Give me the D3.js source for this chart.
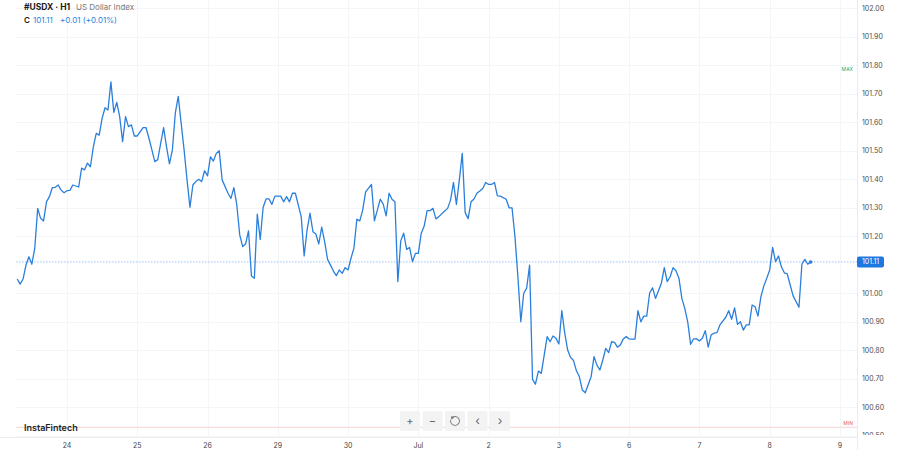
<!DOCTYPE html>
<html><head><meta charset="utf-8">
<script src="https://cdn.jsdelivr.net/npm/d3@7"></script>
<style>html,body{margin:0;padding:0;background:#fff;}svg{display:block;}</style>
</head><body>
<svg id="chart" width="900" height="450"></svg>
<script>
// Hour offsets (H1 bars) and close values
const hours = [
  0,1,2,3,4,5,6,7,8,9,
  10,11,12,13,14,15,16,17,18,19,
  21,22,23,24,25,26,27,28,29,30,
  31,32,33,34,35,36,37,38,39,40,
  41,43,44,45,46,47,48,49,50,51,
  52,53,54,55,56,57,58,59,60,61,
  62,63,64,65,66,67,68,69,70,72,
  73,74,75,76,77,78,79,80,81,82,
  83,84,85,86,87,88,89,90,91,92,
  93,94,95,97,98,99,100,101,102,103,
  104,105,106,107,108,109,110,111,112,113,
  114,115,116,117,118,119,121,122,123,124,
  125,126,127,128,129,130,131,132,133,134,
  135,136,137,138,139,140,141,142,143,144,
  146,147,148,149,150,151,152,153,154,155,
  156,157,158,159,160,161,162,163,164,165,
  167,168,169,170,171,172,173,174,175,176,
  177,178,179,180,181,182,183,184,185,186,
  187,188,189,190,191,192,193,194,196,197,
  198,199,200,201,202,203,204,205,206,207,
  208,209,210,211,212,213,214,215,216,217,
  218,220,221,222,223,224,225,226,227,228,
  229,230,231,232,233,234,235,236,237,238,
  239,240,242,243,244,245,246,247,248,249,
  250,251,252,253,254,255,256,257,258,259,
  260,261,262,263,264,265,267,268,269,270,
  271
];
const closes = [
  101.050,101.032,101.050,101.099,101.128,101.102,101.158,101.298,101.263,101.254,
  101.321,101.339,101.371,101.372,101.380,101.362,101.353,101.360,101.361,101.380,
  101.373,101.439,101.433,101.457,101.444,101.514,101.561,101.555,101.614,101.651,
  101.643,101.742,101.635,101.670,101.620,101.532,101.620,101.585,101.591,101.552,
  101.552,101.581,101.581,101.544,101.503,101.462,101.469,101.526,101.581,101.514,
  101.454,101.503,101.632,101.691,101.596,101.503,101.398,101.302,101.380,101.392,
  101.400,101.392,101.430,101.412,101.479,101.464,101.491,101.500,101.398,101.351,
  101.333,101.371,101.310,101.205,101.164,101.173,101.219,101.061,101.053,101.278,
  101.189,101.302,101.331,101.331,101.312,101.341,101.341,101.341,101.321,101.339,
  101.321,101.351,101.351,101.269,101.131,101.222,101.281,101.216,101.208,101.173,
  101.232,101.181,101.119,101.099,101.078,101.062,101.082,101.070,101.090,101.082,
  101.123,101.158,101.260,101.254,101.292,101.356,101.382,101.254,101.292,101.330,
  101.313,101.272,101.351,101.330,101.321,101.041,101.184,101.211,101.154,101.161,
  101.111,101.140,101.140,101.211,101.236,101.290,101.290,101.298,101.261,101.269,
  101.289,101.298,101.327,101.389,101.312,101.398,101.491,101.283,101.262,101.321,
  101.331,101.351,101.359,101.368,101.389,101.382,101.382,101.389,101.342,101.341,
  101.330,101.300,101.300,101.199,101.058,100.900,101.000,101.018,101.099,100.698,
  100.681,100.727,100.719,100.784,100.848,100.830,100.850,100.842,100.822,100.939,
  100.860,100.801,100.775,100.764,100.728,100.707,100.661,100.651,100.707,100.778,
  100.748,100.731,100.766,100.807,100.792,100.830,100.828,100.811,100.819,100.840,
  100.848,100.840,100.839,100.839,100.939,100.900,100.920,100.920,101.001,101.019,
  100.982,101.035,101.090,101.041,101.058,101.090,101.079,101.053,100.982,100.947,
  100.900,100.821,100.840,100.840,100.833,100.842,100.869,100.811,100.854,100.860,
  100.862,100.889,100.916,100.939,100.909,100.949,100.891,100.900,100.871,100.889,
  100.889,100.959,100.953,100.920,100.988,101.026,101.053,101.082,101.161,101.111,
  101.131,101.093,101.072,101.068,101.029,100.991,100.951,101.102,101.119,101.102,
  101.110
];
// Date tick labels (placed every 24 bars) and their bar offsets
const dayLabels = ['24','25','26','29','30','Jul','2','3','6','7','8','9'];
const dayHours = [17,41,65,89,113,137,161,185,209,233,257,281];
// Price axis ticks
const priceTicks = [102.0,101.9,101.8,101.7,101.6,101.5,101.4,101.3,101.2,101.0,100.9,100.8,100.7,100.6,100.5];
const lastPrice = 101.11;
const maxLevel = 101.785;
const minLevel = 100.53;

const FONT = "Inter, 'Open Sans', 'Noto Sans', sans-serif";
const svg = d3.select('#chart').style('font-family', FONT);

const x = d3.scaleLinear().domain([0, 281]).range([17.2, 17.2 + 2.928 * 281]);
const y = d3.scaleLinear().domain([100.5, 102.0]).range([435.8, 8.3]);
const plotLeft = 16, plotRight = 857, plotBottom = 437;

// grid
const grid = svg.append('g');
grid.selectAll('line.h').data(priceTicks).enter().append('line')
  .attr('x1', plotLeft).attr('x2', plotRight)
  .attr('y1', d => Math.round(y(d)) + 0.5).attr('y2', d => Math.round(y(d)) + 0.5)
  .attr('stroke', '#f3f5f9').attr('stroke-width', 1);
grid.selectAll('line.v').data(dayHours).enter().append('line')
  .attr('x1', d => Math.round(x(d)) + 0.5).attr('x2', d => Math.round(x(d)) + 0.5)
  .attr('y1', 0).attr('y2', plotBottom)
  .attr('stroke', '#f3f5f9').attr('stroke-width', 1);

// borders
svg.append('line').attr('x1', plotRight + 0.5).attr('x2', plotRight + 0.5).attr('y1', 0).attr('y2', 450)
  .attr('stroke', '#ececec');
svg.append('line').attr('x1', 0).attr('x2', plotRight).attr('y1', plotBottom + 0.5).attr('y2', plotBottom + 0.5)
  .attr('stroke', '#ededed');

// min level line
svg.append('line').attr('x1', plotLeft).attr('x2', plotRight)
  .attr('y1', y(minLevel)).attr('y2', y(minLevel))
  .attr('stroke', '#f6d3d3').attr('stroke-width', 1);
svg.append('text').attr('x', 853).attr('y', y(minLevel) - 2).attr('text-anchor', 'end')
  .attr('font-size', 5).attr('fill', '#ef5350').text('MIN');
svg.append('text').attr('x', 853).attr('y', y(maxLevel) + 1.5).attr('text-anchor', 'end')
  .attr('font-size', 5).attr('fill', '#26a65b').text('MAX');

// current price dotted line
svg.append('line').attr('x1', plotLeft).attr('x2', plotRight)
  .attr('y1', y(lastPrice)).attr('y2', y(lastPrice))
  .attr('stroke', '#9cc3f2').attr('stroke-width', 1).attr('stroke-dasharray', '1.5,1.5');

// price line
const pts = hours.map((h, i) => [h, closes[i]]);
const line = d3.line().x(d => x(d[0])).y(d => y(d[1]));
svg.append('path').datum(pts).attr('d', line)
  .attr('fill', 'none').attr('stroke', '#2b7fdc').attr('stroke-width', 1.3)
  .attr('stroke-linejoin', 'round');
const last = pts[pts.length - 1];
svg.append('circle').attr('cx', x(last[0])).attr('cy', y(last[1])).attr('r', 1.8).attr('fill', '#2b7fdc');

// price axis
svg.append('clipPath').attr('id', 'axclip').append('rect').attr('x', plotRight).attr('y', 0).attr('width', 60).attr('height', 435);
const pa = svg.append('g').attr('clip-path', 'url(#axclip)');
pa.selectAll('text').data(priceTicks).enter().append('text')
  .attr('x', 862).attr('y', d => y(d)).attr('dy', '0.35em')
  .attr('font-size', 7).attr('fill', '#4d4d4d').text(d => d.toFixed(2));

// last price tag
svg.append('rect').attr('x', plotRight).attr('y', y(lastPrice) - 5.5).attr('width', 27).attr('height', 11)
  .attr('rx', 2).attr('fill', '#1f77e0');
svg.append('text').attr('x', 862).attr('y', y(lastPrice)).attr('dy', '0.35em')
  .attr('font-size', 7).attr('fill', '#ffffff').text(lastPrice.toFixed(2));

// time axis
svg.append('g').selectAll('text').data(dayHours).enter().append('text')
  .attr('x', d => x(d)).attr('y', 446).attr('dy', '0.35em').attr('text-anchor', 'middle')
  .attr('font-size', 7).attr('fill', '#444').text((d, i) => dayLabels[i]);

// header
svg.append('text').attr('x', 24).attr('y', 7).attr('dy', '0.35em').attr('font-size', 8.5)
  .attr('font-weight', 700).attr('fill', '#1a1a1a').text('#USDX · H1');
svg.append('text').attr('x', 76).attr('y', 7).attr('dy', '0.35em').attr('font-size', 8)
  .attr('fill', '#7a7a7a').text('US Dollar Index');
svg.append('text').attr('x', 24).attr('y', 20).attr('dy', '0.35em').attr('font-size', 8)
  .attr('font-weight', 600).attr('fill', '#1a1a1a').text('C');
svg.append('text').attr('x', 33).attr('y', 20).attr('dy', '0.35em').attr('font-size', 8)
  .attr('fill', '#2b7fdc').text('101.11');
svg.append('text').attr('x', 60).attr('y', 20).attr('dy', '0.35em').attr('font-size', 8)
  .attr('fill', '#2b7fdc').text('+0.01 (+0.01%)');

// watermark
svg.append('text').attr('x', 24).attr('y', 428).attr('dy', '0.35em').attr('font-size', 9)
  .attr('font-weight', 600).attr('fill', '#222').text('InstaFintech');

// navigation buttons
const btnCenters = [410, 432.5, 455, 477.5, 500];
const btnLabels = ['+', '−', '', '‹', '›'];
const btns = svg.append('g');
btnCenters.forEach((cx, i) => {
  btns.append('rect').attr('x', cx - 10).attr('y', 411).attr('width', 20).attr('height', 20)
    .attr('rx', 2).attr('fill', '#f3f3f3');
  if (btnLabels[i]) {
    btns.append('text').attr('x', cx).attr('y', 421).attr('dy', '0.35em').attr('text-anchor', 'middle')
      .attr('font-size', i < 2 ? 11 : 12).attr('fill', '#666').text(btnLabels[i]);
  }
});
// reset icon (circular arrow)
const arc = d3.arc().innerRadius(4.2).outerRadius(4.2).startAngle(-Math.PI * 0.35).endAngle(Math.PI * 1.55);
btns.append('path').attr('d', d3.arc()({innerRadius: 4, outerRadius: 4.9, startAngle: -Math.PI * 0.3, endAngle: Math.PI * 1.6}))
  .attr('transform', 'translate(455,421)').attr('fill', '#777');
btns.append('path').attr('d', 'M-3.6,-5.2 L-0.8,-3.2 L-3.8,-1.6 Z').attr('transform', 'translate(455,421)').attr('fill', '#777');
</script>
</body></html>
